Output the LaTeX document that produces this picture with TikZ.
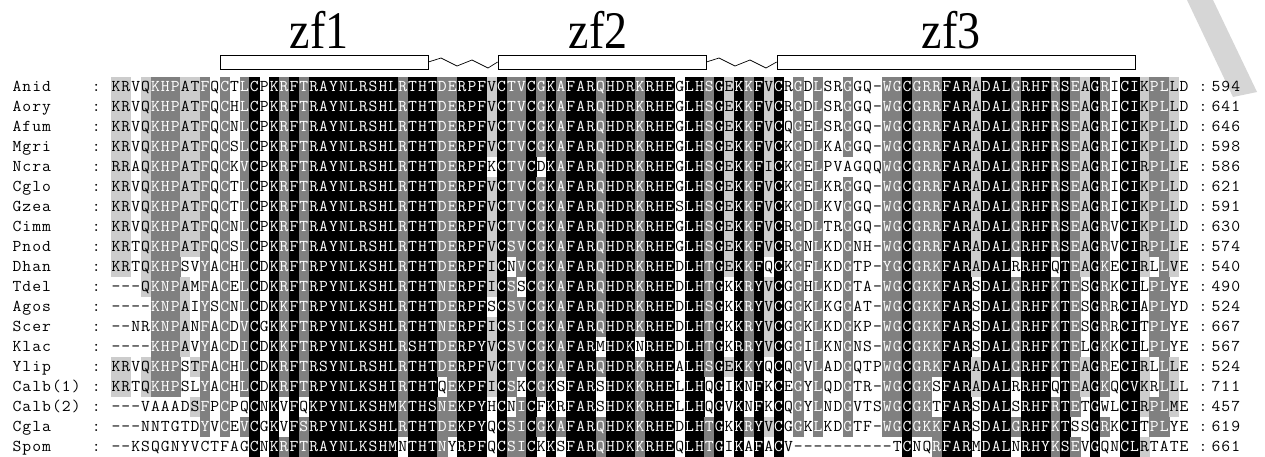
\documentclass[tikz,border=0pt]{standalone}
\usepackage{fontspec}
\setmainfont{Liberation Serif}
\definecolor{dk}{RGB}{128,128,128}
\definecolor{lt}{RGB}{204,204,204}
\definecolor{wm}{RGB}{214,214,214}
\tikzset{
  res/.style={anchor=base, inner sep=0pt, outer sep=0pt, font=\fontsize{16.5pt}{16.5pt}\selectfont\ttfamily, xscale=1.04},
  zflabel/.style={anchor=base, inner sep=0pt, font=\fontsize{46pt}{46pt}\selectfont, yscale=1.15},
  zfbox/.style={draw=black, line width=0.8pt, fill=white, minimum height=14pt, inner sep=0pt},
  zigzag/.style={draw=black, line width=0.7pt, line join=round},
  watermark/.style={fill=wm, draw=none}
}
\makeatletter
\newcount\seq@col
\newcount\ml@count
\def\pitch{9.89}
\def\seq@x{111}
\def\basesh{5.0}
\def\ALL{ACDEFGHIKLMNPQRSTVWY}
\def\colspec#1#2#3{\expandafter\gdef\csname lv@#1\endcsname{#2}\expandafter\gdef\csname st@#1\endcsname{#3}}
\foreach \c in {15,17,19,21,22,23,24,25,26,27,28,29,31,32,33,36,37,38,40,43,45,47,48,49,51,52,53,55,56,57,59,60,62,64,66,68,81,85,86,87,89,90,91,93,94,95,97,100,103,104}{\colspec{\c}{k}{\ALL}}
\colspec{1}{l}{KR}\colspec{2}{l}{KR}\colspec{4}{l}{Q}\colspec{5}{d}{K}
\colspec{6}{d}{HN}\colspec{7}{d}{P}\colspec{8}{l}{A}\colspec{9}{l}{TS}
\colspec{10}{d}{FY}\colspec{12}{d}{C}\colspec{14}{d}{LIVM}\colspec{18}{d}{KR}
\colspec{20}{d}{TS}\colspec{30}{d}{KR}\colspec{34}{d}{DN}\colspec{35}{d}{E}
\colspec{39}{l}{LIVM}\colspec{41}{d}{TS}\colspec{42}{d}{LIVM}\colspec{44}{d}{G}
\colspec{46}{d}{A}\colspec{50}{d}{Q}\colspec{54}{d}{KR}\colspec{61}{d}{ST}
\colspec{63}{l}{E}\colspec{65}{d}{KR}\colspec{67}{l}{LIVM}\colspec{70}{d}{G}
\colspec{72}{d}{LIVM}\colspec{75}{d}{G}\colspec{79}{d}{WFY}\colspec{80}{d}{G}
\colspec{82}{d}{G}\colspec{83}{d}{KR}\colspec{84}{d}{KR}\colspec{88}{l}{A}
\colspec{92}{d}{G}\colspec{96}{d}{KR}\colspec{98}{d}{E}\colspec{99}{l}{A}
\colspec{101}{d}{KR}\colspec{105}{l}{KR}\colspec{106}{d}{P}\colspec{107}{d}{LIVM}
\colspec{108}{l}{LIVM}
\def\seq@row#1{\global\seq@col=0\relax\seq@next#1\relax}
\def\seq@next#1{\ifx#1\relax\else\global\advance\seq@col by 1\relax\seq@cell{#1}\expandafter\seq@next\fi}
\def\seq@cell#1{%
  \edef\seq@lv{\csname lv@\the\seq@col\endcsname}%
  \edef\seq@st{\csname st@\the\seq@col\endcsname}%
  \let\seq@bg\relax
  \def\seq@fg{black}%
  \if#1-\else
    \edef\seq@tmp{\noexpand\in@{#1}{\seq@st}}\seq@tmp
    \ifin@
      \if k\seq@lv\def\seq@bg{black}\def\seq@fg{white}\fi
      \if d\seq@lv\def\seq@bg{dk}\def\seq@fg{white}\fi
      \if l\seq@lv\def\seq@bg{lt}\fi
    \fi
  \fi
  \pgfmathsetmacro\seq@xa{\seq@x+(\the\seq@col-1)*\pitch}%
  \pgfmathsetmacro\seq@xb{\seq@xa+\pitch+0.3}%
  \pgfmathsetmacro\seq@xc{\seq@xa+\pitch/2}%
  \pgfmathsetmacro\seq@ya{\seq@ry-10.15}%
  \pgfmathsetmacro\seq@yb{\seq@ry+10.15}%
  \ifx\seq@bg\relax\else\fill[\seq@bg] (\seq@xa,\seq@ya) rectangle (\seq@xb,\seq@yb);\fi
  \node[res,text=\seq@fg] (r\rowidx c\the\seq@col) at (\seq@xc,\seq@base) {#1};%
}
\def\ml@line#1#2#3{\def\ml@x{#1}\def\ml@pre{#2}\global\ml@count=0\relax\ml@next#3\relax}
\def\ml@next#1{\ifx#1\relax\else\global\advance\ml@count by 1\relax
  \pgfmathsetmacro\ml@xc{\ml@x+(\the\ml@count-0.5)*\pitch}%
  \node[res] (\ml@pre\rowidx-\the\ml@count) at (\ml@xc,\seq@base) {#1};%
  \expandafter\ml@next\fi}
\def\seqline#1#2#3#4{%
  \def\rowidx{#1}%
  \pgfmathsetmacro\seq@ry{86.7+(#1-1)*20}%
  \pgfmathsetmacro\seq@base{\seq@ry+\basesh}%
  \ml@line{12}{n}{#2}%
  \node[res] (lc#1) at (96.2,\seq@base) {:};%
  \seq@row{#3}%
  \node[res] (rc#1) at (1203,\seq@base) {:};%
  \ml@line{1211}{m}{#4}%
}
\makeatother
\begin{document}
\begin{tikzpicture}[x=1pt,y=-1pt]
\fill[white] (0,0) rectangle (1265,456);
\useasboundingbox (0,0) rectangle (1265,456);
% watermark stroke, top right
\fill[watermark] (1187,0) -- (1213,0) -- (1257,92) -- (1233,97) -- cycle;
% header
\node[zfbox, minimum width=208pt] (b1) at (324,62) {};
\node[zfbox, minimum width=208pt] (b2) at (602,62) {};
\node[zfbox, minimum width=358pt] (b3) at (956,62) {};
\node[zflabel] (zf1) at (319,48) {zf1};
\node[zflabel] (zf2) at (598,48) {zf2};
\node[zflabel] (zf3) at (951,48) {zf3};
\coordinate (za1) at (441,58);
\coordinate (za2) at (457,66);
\coordinate (za3) at (472,60);
\coordinate (za4) at (488,68);
\draw[zigzag] (b1.east) -- (za1) -- (za2) -- (za3) -- (za4) -- (b2.west);
\coordinate (zb1) at (719,58);
\coordinate (zb2) at (735,66);
\coordinate (zb3) at (750,60);
\coordinate (zb4) at (766,68);
\draw[zigzag] (b2.east) -- (zb1) -- (zb2) -- (zb3) -- (zb4) -- (b3.west);
% alignment
\seqline{1}{Anid}{KRVQKHPATFQCTLCPKRFTRAYNLRSHLRTHTDERPFVCTVCGKAFARQHDRKRHEGLHSGEKKFVCRGDLSRGGQ-WGCGRRFARADALGRHFRSEAGRICIKPLLD}{594}
\seqline{2}{Aory}{KRVQKHPATFQCHLCPKRFTRAYNLRSHLRTHTDERPFVCTVCGKAFARQHDRKRHEGLHSGEKKFVCRGDLSRGGQ-WGCGRRFARADALGRHFRSEAGRICIKPLLD}{641}
\seqline{3}{Afum}{KRVQKHPATFQCNLCPKRFTRAYNLRSHLRTHTDERPFVCTVCGKAFARQHDRKRHEGLHSGEKKFVCQGELSRGGQ-WGCGRRFARADALGRHFRSEAGRICIKPLLD}{646}
\seqline{4}{Mgri}{KRVQKHPATFQCSLCPKRFTRAYNLRSHLRTHTDERPFVCTVCGKAFARQHDRKRHEGLHSGEKKFVCKGDLKAGGQ-WGCGRRFARADALGRHFRSEAGRICIKPLLD}{598}
\seqline{5}{Ncra}{RRAQKHPATFQCKVCPKRFTRAYNLRSHLRTHTDERPFKCTVCDKAFARQHDRKRHEGLHSGEKKFICKGELPVAGQQWGCGRRFARADALGRHFRSEAGRICIRPLLE}{586}
\seqline{6}{Cglo}{KRVQKHPATFQCTLCPKRFTRAYNLRSHLRTHTDERPFVCTVCGKAFARQHDRKRHEGLHSGEKKFVCKGELKRGGQ-WGCGRRFARADALGRHFRSEAGRICIKPLLD}{621}
\seqline{7}{Gzea}{KRVQKHPATFQCTLCPKRFTRAYNLRSHLRTHTDERPFVCTVCGKAFARQHDRKRHESLHSGEKKFVCKGDLKVGGQ-WGCGRRFARADALGRHFRSEAGRICIKPLLD}{591}
\seqline{8}{Cimm}{KRVQKHPATFQCNLCPKRFTRAYNLRSHLRTHTDERPFVCTVCGKAFARQHDRKRHEGLHSGEKKFVCRGDLTRGGQ-WGCGRRFARADALGRHFRSEAGRVCIKPLLD}{630}
\seqline{9}{Pnod}{KRTQKHPATFQCSLCPKRFTRAYNLRSHLRTHTDERPFVCSVCGKAFARQHDRKRHEGLHSGEKKFVCRGNLKDGNH-WGCGRRFARADALGRHFRSEAGRVCIRPLLE}{574}
\seqline{10}{Dhan}{KRTQKHPSVYACHLCDKRFTRPYNLKSHLRTHTDERPFICNVCGKAFARQHDRKRHEDLHTGEKKFQCKGFLKDGTP-YGCGRKFARADALRRHFQTEAGKECIRLLVE}{540}
\seqline{11}{Tdel}{---QKNPAMFACELCDKRFTRPYNLKSHLRTHTNERPFICSSCGKAFARQHDRKRHEDLHTGKKRYVCGGHLKDGTA-WGCGKKFARSDALGRHFKTESGRKCILPLYE}{490}
\seqline{12}{Agos}{----KNPAIYSCNLCDKKFTRPYNLKSHLRTHTDERPFSCSVCGKAFARQHDRKRHEDLHSGKKRYVCGGKLKGGAT-WGCGKKFARSDALGRHFKTESGRRCIAPLYD}{524}
\seqline{13}{Scer}{--NRKNPANFACDVCGKKFTRPYNLKSHLRTHTNERPFICSICGKAFARQHDRKRHEDLHTGKKRYVCGGKLKDGKP-WGCGKKFARSDALGRHFKTESGRRCITPLYE}{667}
\seqline{14}{Klac}{----KHPAVYACDICDKKFTRPYNLKSHLRSHTDERPYVCSVCGKAFARMHDKNRHEDLHTGKRRYVCGGILKNGNS-WGCGKKFARSDALGRHFKTELGKKCILPLYE}{567}
\seqline{15}{Ylip}{KRVQKHPSTFACHLCDKRFTRSYNLRSHLRTHTDERPFVCTVCGKAFARQHDRKRHEALHSGEKKYQCQGVLADGQTPWGCGRKFARADALGRHFKTEAGRECIRLLLE}{524}
\seqline{16}{Calb(1)}{KRTQKHPSLYACHLCDKRFTRPYNLKSHIRTHTQEKPFICSKCGKSFARSHDKKRHELLHQGIKNFKCEGYLQDGTR-WGCGKSFARADALRRHFQTEAGKQCVKRLLL}{711}
\seqline{17}{Calb(2)}{---VAAADSFPCPQCNKVFQKPYNLKSHMKTHSNEKPYHCNICFKRFARSHDKKRHELLHQGVKNFKCQGYLNDGVTSWGCGKTFARSDALSRHFRTETGWLCIRPLME}{457}
\seqline{18}{Cgla}{---NNTGTDYVCEVCGKVFSRPYNLKSHLRTHTDEKPYQCSICGKAFARQHDKKRHEDLHTGKKRYVCGGKLKDGTF-WGCGKKFARSDALGRHFKTSSGRKCITPLYE}{619}
\seqline{19}{Spom}{--KSQGNYVCTFAGCNKRFTRAYNLKSHMNTHTNYRPFQCSICKKSFARQHDKKRHEQLHTGIKAFACV----------TCNQRFARMDALNRHYKSEVGQNCLRTATE}{661}
\end{tikzpicture}
\end{document}
